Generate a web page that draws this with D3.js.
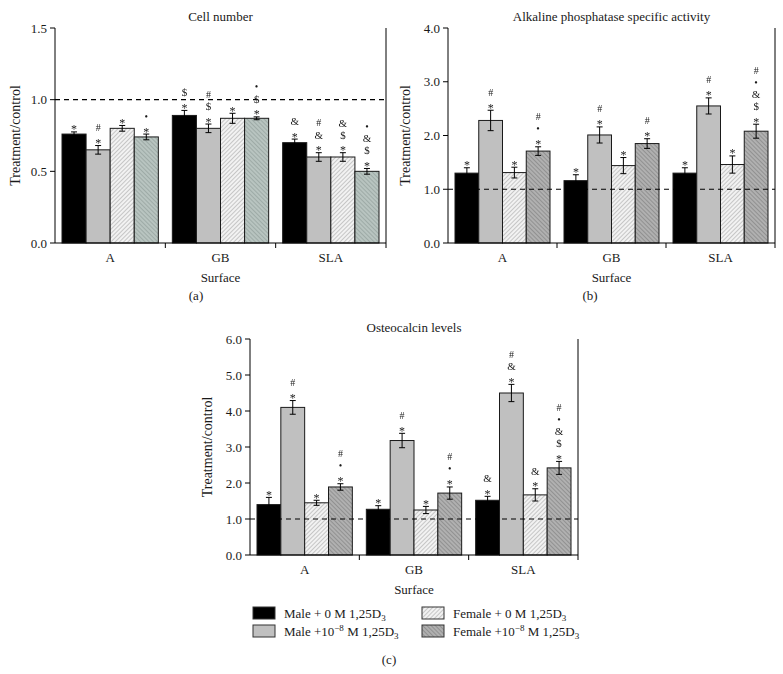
<!DOCTYPE html>
<html><head><meta charset="utf-8">
<script src="https://cdn.jsdelivr.net/npm/d3@7"></script>
<style>body{margin:0;background:#fff;} svg{display:block;font-family:"Liberation Serif","DejaVu Serif",serif;}</style>
</head><body>
<svg id="c" width="783" height="674"></svg>
<script>
const groups = ["A", "GB", "SLA"];
const seriesKeys = ["m0", "m8", "f0", "f8"];

const cellValues = [[0.76, 0.65, 0.80, 0.74], [0.89, 0.80, 0.87, 0.87], [0.70, 0.60, 0.60, 0.50]];
const cellErrors = [[0.015, 0.03, 0.02, 0.02], [0.035, 0.03, 0.035, 0.01], [0.025, 0.03, 0.03, 0.02]];
const cellMarks = [[["*"], ["*", "#"], ["*"], ["*", "•"]],
                   [["*", "$"], ["*", "$", "#"], ["*"], ["*", "$", "•"]],
                   [["*", "&"], ["*", "&", "#"], ["*", "$", "&"], ["*", "$", "&", "•"]]];
const cellTicks = [0.0, 0.5, 1.0, 1.5];

const alpValues = [[1.30, 2.28, 1.31, 1.71], [1.16, 2.01, 1.44, 1.85], [1.30, 2.55, 1.46, 2.08]];
const alpErrors = [[0.10, 0.19, 0.10, 0.08], [0.11, 0.15, 0.15, 0.09], [0.10, 0.15, 0.16, 0.13]];
const alpMarks = [[["*"], ["*", "#"], ["*"], ["*", "•", "#"]],
                  [["*"], ["*", "#"], ["*"], ["*", "#"]],
                  [["*"], ["*", "#"], ["*"], ["*", "$", "&", "•", "#"]]];
const alpTicks = [0.0, 1.0, 2.0, 3.0, 4.0];

const ocnValues = [[1.40, 4.10, 1.45, 1.89], [1.27, 3.18, 1.25, 1.72], [1.52, 4.50, 1.67, 2.42]];
const ocnErrors = [[0.20, 0.19, 0.07, 0.09], [0.10, 0.20, 0.10, 0.17], [0.11, 0.24, 0.17, 0.18]];
const ocnMarks = [[["*"], ["*", "#"], ["*"], ["*", "•", "#"]],
                  [["*"], ["*", "#"], ["*"], ["*", "•", "#"]],
                  [["*", "&"], ["*", "&", "#"], ["*", "&"], ["*", "$", "&", "•", "#"]]];
const ocnTicks = [0.0, 1.0, 2.0, 3.0, 4.0, 5.0, 6.0];

const svg = d3.select("#c");
const defs = svg.append("defs");

const gray = defs.append("filter").attr("id", "gray");
gray.append("feColorMatrix").attr("type", "saturate").attr("values", 0);

function hatch(id, bg, fg, dir) {
  const p = defs.append("pattern").attr("id", id).attr("patternUnits", "userSpaceOnUse")
    .attr("width", 3).attr("height", 3)
    .attr("patternTransform", "rotate(" + (dir > 0 ? 45 : -45) + ")");
  p.append("rect").attr("width", 3).attr("height", 3).attr("fill", bg);
  p.append("line").attr("x1", 0).attr("y1", 0).attr("x2", 0).attr("y2", 3)
    .attr("stroke", fg).attr("stroke-width", 1.2);
}
hatch("pf0", "#f2f2f2", "#a8a8a8", 1);
hatch("pf8", "#b0b0b0", "#7c7c7c", -1);
hatch("pf8a", "#b8c4c0", "#8c9a96", -1);

const fillsDefault = {m0: "#000", m8: "#c0c0c0", f0: "url(#pf0)", f8: "url(#pf8)"};
const fillsA = {m0: "#000", m8: "#c0c0c0", f0: "url(#pf0)", f8: "url(#pf8a)"};

const markStyle = {"*": {dy: 7.5, fs: 12}, "#": {dy: 3.5, fs: 10}, "•": {dy: 3.5, fs: 10}, "$": {dy: 4, fs: 11}, "&": {dy: 4, fs: 11}};

function fmt(v) { return v.toFixed(1); }

function panel(cfg) {
  const g = svg.append("g");
  const x = d3.scaleBand().domain(groups).range([cfg.x0, cfg.x1]);
  const xi = d3.scaleBand().domain(seriesKeys).range([7, x.bandwidth() - 7]);
  const y = d3.scaleLinear().domain([0, cfg.max]).range([cfg.yb, cfg.yt]);

  groups.forEach((grp, gi) => {
    seriesKeys.forEach((s, si) => {
      const v = cfg.values[gi][si];
      g.append("rect").attr("x", x(grp) + xi(s)).attr("y", y(v)).attr("width", xi.bandwidth())
        .attr("height", y(0) - y(v)).attr("fill", cfg.fills[s])
        .attr("stroke", "#1a1a1a").attr("stroke-width", 1);
    });
  });

  g.append("line").attr("x1", cfg.x0).attr("x2", cfg.x1).attr("y1", y(1)).attr("y2", y(1))
    .attr("stroke", "#000").attr("stroke-width", 1.2).attr("stroke-dasharray", "5,4");

  const markLayer = g.append("g").attr("filter", "url(#gray)");

  groups.forEach((grp, gi) => {
    seriesKeys.forEach((s, si) => {
      const v = cfg.values[gi][si], e = cfg.errors[gi][si];
      const cx = x(grp) + xi(s) + xi.bandwidth() / 2;
      const eg = g.append("g").attr("stroke", "#000").attr("stroke-width", 1);
      eg.append("line").attr("x1", cx).attr("x2", cx).attr("y1", y(v + e)).attr("y2", y(v - e));
      eg.append("line").attr("x1", cx - 3).attr("x2", cx + 3).attr("y1", y(v + e)).attr("y2", y(v + e));
      eg.append("line").attr("x1", cx - 3).attr("x2", cx + 3).attr("y1", y(v - e)).attr("y2", y(v - e));
      const marks = cfg.marks[gi][si];
      const t = markLayer.append("text").attr("text-anchor", "middle").attr("fill", "#1a1a1a");
      let cy = y(v + e) - 6;
      marks.forEach(m => {
        const st = markStyle[m];
        t.append("tspan").attr("x", cx).attr("y", cy + st.dy).attr("font-size", st.fs).text(m);
        cy -= 12;
      });
    });
  });

  const ax = g.append("g").attr("stroke", "#000").attr("stroke-width", 1);
  ax.append("line").attr("x1", cfg.x0).attr("x2", cfg.x0).attr("y1", cfg.yt).attr("y2", cfg.yb);
  ax.append("line").attr("x1", cfg.x1).attr("x2", cfg.x1).attr("y1", cfg.yt).attr("y2", cfg.yb);
  ax.append("line").attr("x1", cfg.x0).attr("x2", cfg.x1).attr("y1", cfg.yb).attr("y2", cfg.yb);
  cfg.ticks.forEach(t => {
    ax.append("line").attr("x1", cfg.x0 - 5).attr("x2", cfg.x0).attr("y1", y(t)).attr("y2", y(t));
    g.append("text").attr("x", cfg.x0 - 8).attr("y", y(t) + 4.5).attr("text-anchor", "end")
      .attr("font-size", 13).attr("fill", "#1a1a1a").text(fmt(t));
  });
  groups.forEach((grp, gi) => {
    if (gi > 0) ax.append("line").attr("x1", x(grp)).attr("x2", x(grp)).attr("y1", cfg.yb).attr("y2", cfg.yb + 5);
    g.append("text").attr("x", x(grp) + x.bandwidth() / 2).attr("y", cfg.yb + 19).attr("text-anchor", "middle")
      .attr("font-size", 13).attr("fill", "#1a1a1a").text(grp);
  });
  ax.append("line").attr("x1", cfg.x1).attr("x2", cfg.x1).attr("y1", cfg.yb).attr("y2", cfg.yb + 5);

  g.append("text").attr("x", (cfg.x0 + cfg.x1) / 2).attr("y", cfg.yb + 39).attr("text-anchor", "middle")
    .attr("font-size", 13).attr("fill", "#1a1a1a").text("Surface");
  g.append("text").attr("x", (cfg.x0 + cfg.x1) / 2).attr("y", cfg.yt - 7).attr("text-anchor", "middle")
    .attr("font-size", 13).attr("fill", "#1a1a1a").text(cfg.title);
  g.append("text").attr("transform", "translate(" + cfg.ylx + "," + ((cfg.yt + cfg.yb) / 2) + ") rotate(-90)")
    .attr("text-anchor", "middle").attr("font-size", 14).attr("fill", "#1a1a1a").text("Treatment/control");
  g.append("text").attr("x", cfg.lx).attr("y", cfg.ly).attr("text-anchor", "middle")
    .attr("font-size", 13).attr("fill", "#1a1a1a").text(cfg.label);
}

panel({x0: 55, x1: 386, yt: 28, yb: 243, max: 1.5, values: cellValues, errors: cellErrors, marks: cellMarks,
  ticks: cellTicks, fills: fillsA, title: "Cell number", ylx: 20, label: "(a)", lx: 196, ly: 300});
panel({x0: 448, x1: 775, yt: 28, yb: 243, max: 4.0, values: alpValues, errors: alpErrors, marks: alpMarks,
  ticks: alpTicks, fills: fillsDefault, title: "Alkaline phosphatase specific activity", ylx: 410, label: "(b)", lx: 590, ly: 300});
panel({x0: 250, x1: 578, yt: 339, yb: 555, max: 6.0, values: ocnValues, errors: ocnErrors, marks: ocnMarks,
  ticks: ocnTicks, fills: fillsDefault, title: "Osteocalcin levels", ylx: 212, label: "(c)", lx: 389, ly: 664});

const legendItems = [
  {key: "m0", col: 0, row: 0, pre: "Male + 0 M 1,25D", sup: null},
  {key: "m8", col: 0, row: 1, pre: "Male +10", sup: "−8"},
  {key: "f0", col: 1, row: 0, pre: "Female + 0 M 1,25D", sup: null},
  {key: "f8", col: 1, row: 1, pre: "Female +10", sup: "−8"}
];
const lg = svg.append("g");
legendItems.forEach(it => {
  const lx = it.col === 0 ? 253 : 422;
  const ly = it.row === 0 ? 607 : 625;
  lg.append("rect").attr("x", lx).attr("y", ly).attr("width", 22).attr("height", 12)
    .attr("fill", fillsDefault[it.key]).attr("stroke", "#333").attr("stroke-width", 1);
  const t = lg.append("text").attr("x", lx + 31).attr("y", ly + 10.5).attr("font-size", 13).attr("fill", "#1a1a1a");
  t.append("tspan").text(it.pre);
  if (it.sup) {
    t.append("tspan").attr("dy", -5).attr("font-size", 9).text(it.sup);
    t.append("tspan").attr("dy", 5).text(" M 1,25D");
  }
  t.append("tspan").attr("dy", 3.5).attr("font-size", 9).text("3");
});
</script>
</body></html>
